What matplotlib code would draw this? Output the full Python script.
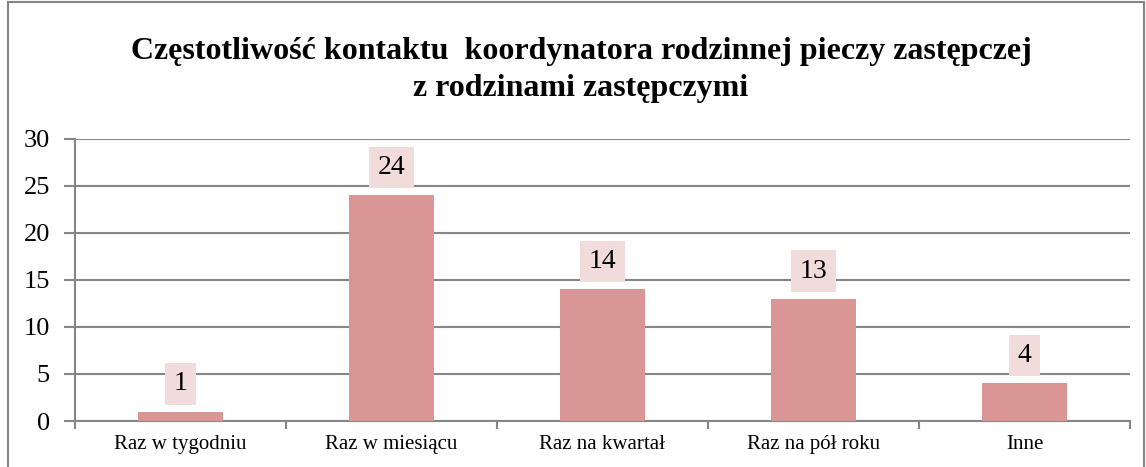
import matplotlib.pyplot as plt
from matplotlib.patches import Rectangle
import numpy as np

# Data
categories = ['Raz w tygodniu', 'Raz w miesiącu', 'Raz na kwartał', 'Raz na pół roku', 'Inne']
values = [1, 24, 14, 13, 4]
y_ticks = [0, 5, 10, 15, 20, 25, 30]

plt.rcParams['font.family'] = ['Liberation Serif', 'DejaVu Serif']

bar_color = '#D99694'
label_bg = '#F2DCDB'
grid_color = '#868686'

fig = plt.figure(figsize=(11.46, 4.67), dpi=100)
ax = fig.add_axes([0.0654, 0.0985, 0.9206, 0.6039])

x = np.arange(len(categories))
ax.bar(x, values, width=0.4, color=bar_color, zorder=3)

for xi, v in zip(x, values):
    ax.annotate(str(v), (xi, v), xytext=(0, 20), textcoords='offset points',
                ha='center', va='center', fontsize=20, zorder=4,
                bbox=dict(boxstyle='square,pad=0.3', fc=label_bg, ec='none'))

ax.set_xlim(-0.5, len(categories) - 0.5)
ax.set_ylim(0, 30)
ax.set_yticks(y_ticks)
ax.tick_params(axis='y', labelsize=19, length=8, width=1.5, color=grid_color, pad=10)
ax.yaxis.grid(True, color=grid_color, linewidth=1.5, zorder=0)

ax.set_xticks(x)
ax.set_xticklabels(categories, fontsize=15)
ax.tick_params(axis='x', which='major', length=0, pad=10)
ax.set_xticks(np.arange(-0.5, len(categories)), minor=True)
ax.tick_params(axis='x', which='minor', length=6, width=1.5, color=grid_color)

for side in ['top', 'right']:
    ax.spines[side].set_visible(False)
for side in ['left', 'bottom']:
    ax.spines[side].set_color(grid_color)
    ax.spines[side].set_linewidth(1.5)

fig.text(0.507, 0.85, 'Częstotliwość kontaktu  koordynatora rodzinnej pieczy zastępczej\nz rodzinami zastępczymi',
         ha='center', va='center', fontsize=23, fontweight='bold', linespacing=1.33)

# outer chart frame
fig.patches.append(Rectangle((8 / 1146, -0.05), 1136 / 1146, 1.045, transform=fig.transFigure,
                             fill=False, ec=grid_color, lw=1.5))

fig.savefig('out.png', dpi=100)
